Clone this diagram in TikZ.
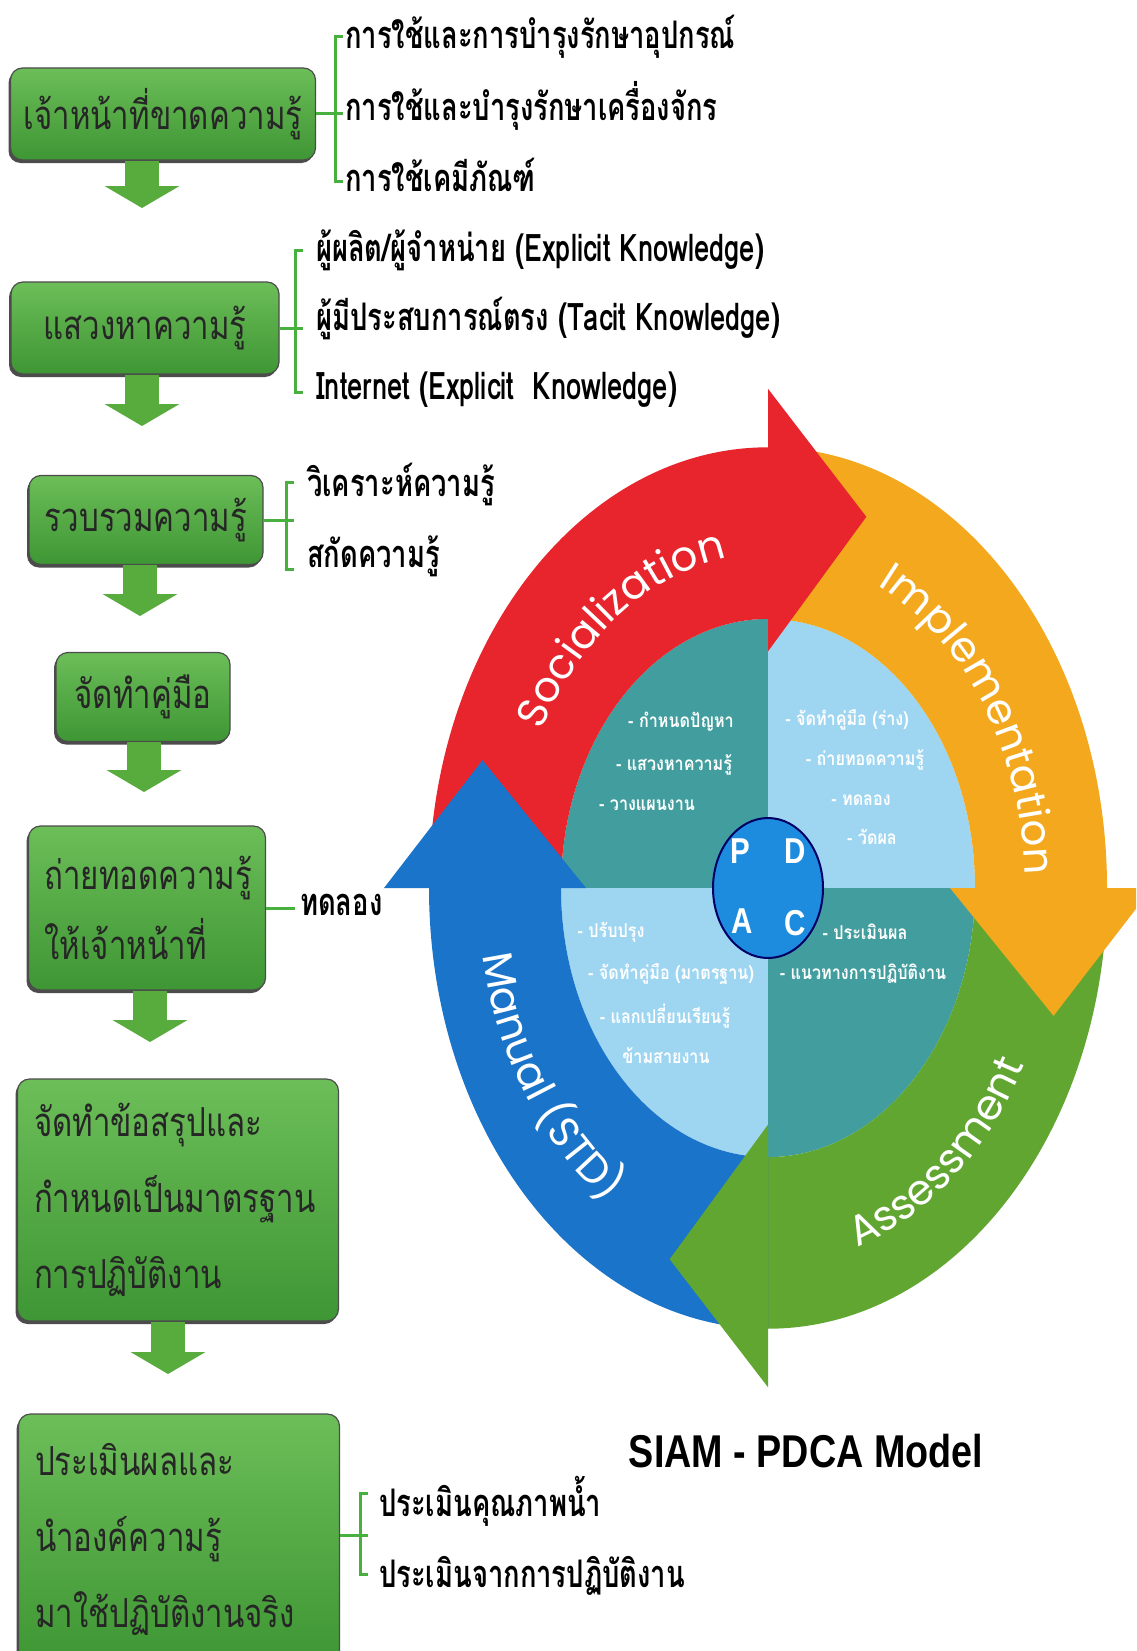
\documentclass[tikz,border=0pt]{standalone}
\usepackage{fontspec}
\usetikzlibrary{arrows.meta,decorations.text,shadows,calc}
\newfontfamily\thai[Script=Thai,FakeStretch=0.78]{Loma}
\newfontfamily\thaiside[Script=Thai,FakeStretch=0.72]{Loma}
\newfontfamily\thaiq[Script=Thai,FakeStretch=0.85]{Loma}
\newfontfamily\ringfont{Poppins}
\newfontfamily\titlefont[FakeStretch=0.82]{Liberation Sans}
\definecolor{boxtop}{RGB}{108,190,88}
\definecolor{boxbot}{RGB}{62,150,52}
\definecolor{arrg}{RGB}{88,172,62}
\definecolor{brkg}{RGB}{72,176,62}
\definecolor{ringred}{RGB}{232,36,44}
\definecolor{ringyel}{RGB}{244,168,30}
\definecolor{ringgrn}{RGB}{98,166,50}
\definecolor{ringblu}{RGB}{26,116,202}
\definecolor{qteal}{RGB}{66,158,158}
\definecolor{qlight}{RGB}{158,214,242}
\definecolor{pdcab}{RGB}{30,140,222}
\begin{document}
\begin{tikzpicture}[x=1pt,y=1pt,
 gbox/.style={rounded corners=12pt, top color=boxtop, bottom color=boxbot, draw=black!70, line width=1.2pt,
   drop shadow={shadow xshift=-2pt,shadow yshift=-3pt,fill=black,opacity=0.7},
   inner sep=0pt, font=\thai\fontsize{40}{72}\selectfont, text=black!85},
 blk/.style={line width=34pt, draw=arrg, -{Triangle[length=22pt,width=74pt]}},
 brk/.style={draw=brkg, line width=3pt},
 side/.style={anchor=west, inner sep=0pt, font=\thaiside\bfseries\fontsize{38}{40}\selectfont, text=black},
 qtxt/.style={inner sep=0pt, font=\thaiq\bfseries\fontsize{19}{20}\selectfont, text=white},
 pdl/.style={font=\titlefont\bfseries\fontsize{36}{36}\selectfont, text=white, inner sep=0pt},
 ringtxt/.style={decorate, decoration={text along path, text align=center, text color=white,
   text={|\ringfont\fontsize{42}{42}\selectfont|#1}}},
]
\clip (0,0) rectangle (1136,-1651);
\fill[white] (0,0) rectangle (1136,-1651);

% ---------- left column boxes ----------
\node[gbox, minimum width=305pt, minimum height=92pt] (b1) at (163,-114) {เจ้าหน้าที่ขาดความรู้};
\node[gbox, minimum width=268pt, minimum height=92pt] (b2) at (145,-328) {แสวงหาความรู้};
\node[gbox, minimum width=234pt, minimum height=89pt] (b3) at (146,-520) {รวบรวมความรู้};
\node[gbox, minimum width=174pt, minimum height=89pt] (b4) at (143,-697) {จัดทำคู่มือ};
\node[gbox, minimum width=237pt, minimum height=164pt, text width=205pt, align=left,
      font=\thai\fontsize{40}{70}\selectfont] (b5) at (147,-908) {ถ่ายทอดความรู้\\ให้เจ้าหน้าที่};
\node[gbox, minimum width=321pt, minimum height=242pt, text width=288pt, align=left,
      font=\thai\fontsize{40}{76}\selectfont] (b6) at (178,-1200) {จัดทำข้อสรุปและ\\กำหนดเป็นมาตรฐาน\\การปฏิบัติงาน};
\node[gbox, minimum width=321pt, minimum height=250pt, text width=288pt, align=left,
      font=\thai\fontsize{40}{76}\selectfont] (b7) at (179,-1539) {ประเมินผลและ\\นำองค์ความรู้\\มาใช้ปฏิบัติงานจริง};

% ---------- block arrows ----------
\coordinate (t1) at (142,-208);
\coordinate (t2) at (142,-426);
\coordinate (t3) at (140,-616);
\coordinate (t4) at (144,-792);
\coordinate (t5) at (150,-1042);
\coordinate (t6) at (168,-1374);
\draw[blk] (b1.south -| t1) -- (t1);
\draw[blk] (b2.south -| t2) -- (t2);
\draw[blk] (b3.south -| t3) -- (t3);
\draw[blk] (b4.south -| t4) -- (t4);
\draw[blk] (b5.south -| t5) -- (t5);
\draw[blk] (b6.south -| t6) -- (t6);

% ---------- brackets and side texts ----------
\coordinate (k1) at (343,-114);
\draw[brk] (343,-37) -- (335,-37) -- (335,-181) -- (343,-181);
\draw[brk] (b1.east) -- (b1.east -| k1);
\node[side] (s1a) at (345,-37) {การใช้และการบำรุงรักษาอุปกรณ์};
\node[side] (s1b) at (345,-106) {การใช้และบำรุงรักษาเครื่องจักร};
\node[side] (s1c) at (345,-175) {การใช้เคมีภัณฑ์};

\coordinate (k2) at (303,-328);
\draw[brk] (303,-250) -- (295,-250) -- (295,-392) -- (303,-392);
\draw[brk] (b2.east) -- (b2.east -| k2);
\node[side] (s2a) at (316,-250) {ผู้ผลิต/ผู้จำหน่าย (Explicit Knowledge)};
\node[side] (s2b) at (316,-318) {ผู้มีประสบการณ์ตรง (Tacit Knowledge)};
\node[side] (s2c) at (316,-390) {Internet (Explicit~~Knowledge)};

\coordinate (k3) at (294,-520);
\draw[brk] (294,-482) -- (286,-482) -- (286,-569) -- (294,-569);
\draw[brk] (b3.east) -- (b3.east -| k3);
\node[side] (s3a) at (307,-484) {วิเคราะห์ความรู้};
\node[side] (s3b) at (307,-556) {สกัดความรู้};

\coordinate (k5) at (295,-907);
\draw[brk] (b5.east) -- (b5.east -| k5);
\node[side] (s5) at (300,-905) {ทดลอง};

\coordinate (k7) at (368,-1535);
\draw[brk] (368,-1493) -- (360,-1493) -- (360,-1574) -- (368,-1574);
\draw[brk] (b7.east |- k7) -- (k7);
\node[side] (s7a) at (379,-1501) {ประเมินคุณภาพน้ำ};
\node[side] (s7b) at (379,-1576) {ประเมินจากการปฏิบัติงาน};

% ---------- PDCA ring ----------
\begin{scope}[shift={(768,-888)}]
 \begin{scope}[yscale=1.3]
  \fill[qteal] (0,0) -- (90:207) arc[start angle=90,end angle=180,radius=207] -- cycle;
  \fill[qlight] (0,0) -- (0:207) arc[start angle=0,end angle=90,radius=207] -- cycle;
  \fill[qlight] (0,0) -- (180:207) arc[start angle=180,end angle=270,radius=207] -- cycle;
  \fill[qteal] (0,0) -- (270:207) arc[start angle=270,end angle=360,radius=207] -- cycle;
  \fill[ringred] (180:339) arc[start angle=180,end angle=90,radius=339] -- (90:207) arc[start angle=90,end angle=180,radius=207] -- cycle;
  \fill[ringyel] (90:339) arc[start angle=90,end angle=0,radius=339] -- (0:207) arc[start angle=0,end angle=90,radius=207] -- cycle;
  \fill[ringgrn] (0:339) arc[start angle=0,end angle=-90,radius=339] -- (-90:207) arc[start angle=-90,end angle=0,radius=207] -- cycle;
  \fill[ringblu] (-90:339) arc[start angle=-90,end angle=-180,radius=339] -- (-180:207) arc[start angle=-180,end angle=-90,radius=207] -- cycle;
  \fill[ringred] (90:182) -- (90:384) -- (71:302) -- cycle;
  \fill[ringyel] (0:182) -- (0:384) -- (-19:302) -- cycle;
  \fill[ringgrn] (-90:182) -- (-90:384) -- (-109:302) -- cycle;
  \fill[ringblu] (180:182) -- (180:384) -- (161:302) -- cycle;
 \end{scope}
 % ring labels
 \path[ringtxt={Socialization}] ({257*cos(156)},{334.1*sin(156)}) arc[start angle=156,end angle=94,x radius=257,y radius=334.1];
 \path[ringtxt={Implementation}] ({257*cos(70)},{334.1*sin(70)}) arc[start angle=70,end angle=-2,x radius=257,y radius=334.1];
 \path[ringtxt={Assessment}] ({290*cos(-82)},{377*sin(-82)}) arc[start angle=-82,end angle=-20,x radius=290,y radius=377];
 \path[ringtxt={Manual (STD)}] ({290*cos(184)},{377*sin(184)}) arc[start angle=184,end angle=244,x radius=290,y radius=377];
 % quadrant texts
 \node[qtxt] (p1) at (-87,166) {- กำหนดปัญหา};
 \node[qtxt] (p2) at (-94,123) {- แสวงหาความรู้};
 \node[qtxt] (p3) at (-121,83) {- วางแผนงาน};
 \node[qtxt] (d1) at (79,168) {- จัดทำคู่มือ (ร่าง)};
 \node[qtxt] (d2) at (97,128) {- ถ่ายทอดความรู้};
 \node[qtxt] (d3) at (93,88) {- ทดลอง};
 \node[qtxt] (d4) at (104,51) {- วัดผล};
 \node[qtxt] (a1) at (-157,-44) {- ปรับปรุง};
 \node[qtxt] (a2) at (-97,-86) {- จัดทำคู่มือ (มาตรฐาน)};
 \node[qtxt] (a3) at (-103,-128) {- แลกเปลี่ยนเรียนรู้};
 \node[qtxt] (a4) at (-102,-168) {ข้ามสายงาน};
 \node[qtxt] (c1) at (97,-44) {- ประเมินผล};
 \node[qtxt] (c2) at (95,-86) {- แนวทางการปฏิบัติงาน};
 % centre disc
 \filldraw[fill=pdcab, draw=black!60!blue, line width=2pt] (0,0) ellipse[x radius=55, y radius=70];
 \node[pdl] (lp) at (-28,37) {P};
 \node[pdl] (ld) at (27,37) {D};
 \node[pdl] (la) at (-26,-33) {A};
 \node[pdl] (lc) at (27,-35) {C};
\end{scope}

\node[font=\titlefont\bfseries\fontsize{46}{46}\selectfont, inner sep=0pt] (title) at (806,-1451) {SIAM - PDCA Model};
\end{tikzpicture}
\end{document}
